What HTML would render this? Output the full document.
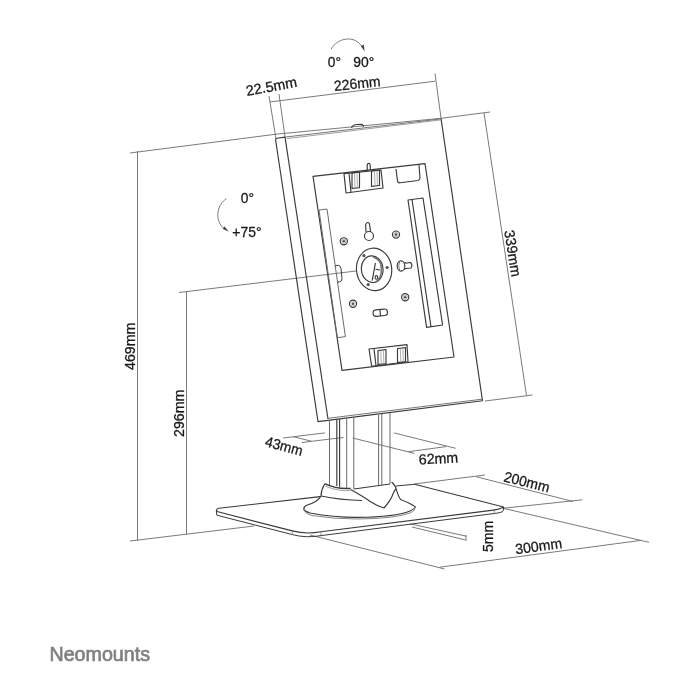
<!DOCTYPE html>
<html><head><meta charset="utf-8">
<style>
html,body{margin:0;padding:0;background:#fff;width:700px;height:700px;overflow:hidden}
svg{display:block;will-change:transform;filter:blur(0.35px)}
text{font-family:"Liberation Sans",sans-serif;fill:#1a1a1a}
.d{stroke:#7a7a7a;stroke-width:1;fill:none}
.o{stroke:#3a3a3a;stroke-width:1.15;fill:none;stroke-linejoin:round}
.t{stroke:#444;stroke-width:0.8;fill:none}
</style></head>
<body>
<svg width="700" height="700" viewBox="0 0 700 700">
<!-- ===== dimension lines ===== -->
<g class="d">
  <!-- 469 top extension -->
  <polyline points="130,153 276,134.2 441,118.3 490,112"/>
  <!-- 469 vertical -->
  <line x1="137.5" y1="151" x2="137.5" y2="541"/>
  <!-- floor line -->
  <line x1="130" y1="541" x2="254" y2="526"/>
  <!-- 296 -->
  <line x1="179" y1="292.5" x2="356" y2="271"/>
  <line x1="186.5" y1="291.5" x2="186.5" y2="534.5"/>
  <!-- 22.5 extension -->
  <line x1="269" y1="96" x2="276" y2="139"/>
  <line x1="279" y1="94" x2="285" y2="137"/>
  <!-- 226 -->
  <line x1="269.6" y1="102" x2="435" y2="81.2"/>
  <line x1="435" y1="73.5" x2="441" y2="118"/>
  <!-- 339 -->
  <line x1="484" y1="113" x2="526.5" y2="395.5"/>
  <line x1="485" y1="401" x2="532.5" y2="395"/>
  <!-- 43mm -->
  <line x1="283" y1="438" x2="325" y2="432.9"/>
  <line x1="301.8" y1="442.5" x2="343.6" y2="437.4"/>
  <line x1="293.4" y1="436.7" x2="311.4" y2="441.2"/>
  <!-- 62mm -->
  <line x1="352.7" y1="438" x2="414.4" y2="453.4"/>
  <line x1="393.9" y1="432.9" x2="455.6" y2="448.3"/>
  <line x1="408.4" y1="451.7" x2="446.1" y2="446.6"/>
  <!-- 200mm -->
  <line x1="414" y1="484" x2="485" y2="475"/>
  <line x1="476.1" y1="476.7" x2="573" y2="501.5"/>
  <line x1="502.9" y1="508.3" x2="582.3" y2="499.8"/>
  <!-- 300mm -->
  <line x1="502" y1="508" x2="649" y2="542.3"/>
  <line x1="439.7" y1="567.2" x2="641.4" y2="540.3"/>
  <line x1="310" y1="535" x2="444.6" y2="569"/>
  <!-- 5mm -->
  <line x1="410" y1="523.8" x2="466.4" y2="536.2"/>
  <line x1="412" y1="527" x2="465.2" y2="539.9"/>
  <line x1="466" y1="535" x2="466" y2="541"/>
</g>
<!-- rotation arrows -->
<g class="d">
  <path d="M331.1,49.2 C337,38 355,34 362.5,47.5"/>
  <path d="M226.4,198.7 C218,204 213,219 224.5,229.2"/>
</g>
<path d="M360.8,46.2 L364.6,51.2 L363.8,44.6 Z" fill="#444"/>
<path d="M222.6,228.8 L228.8,231.8 L224.6,226.6 Z" fill="#444"/>

<!-- ===== frame ===== -->
<g class="o">
  <!-- outer silhouette -->
  <path d="M285,137.1 L277,138.2 Q275.5,138.6 275.6,140 L318,421.6 L482.5,400.8 L441,118.3"/>
  <!-- top face front edge -->
  <line x1="285" y1="137.1" x2="441" y2="118.9" style="stroke:#666;stroke-width:0.9"/>
  <line x1="287" y1="138.6" x2="441" y2="119.9" style="stroke:#888;stroke-width:0.8"/>
  <!-- inner left strip -->
  <line x1="285" y1="137.1" x2="328" y2="419"/>
  <!-- bottom double -->
  <line x1="328" y1="418.3" x2="482" y2="399.2" style="stroke:#666;stroke-width:0.9"/>
  <!-- button -->
  <path d="M351.4,127.8 Q353,124.6 357,124.5 L361,124.4 Q363.5,124.8 363.5,126.8"/>
  <!-- inner bay -->
  <polygon points="313,176.4 425,163.6 454,357 342,370.4"/>
  <!-- top bracket -->
  <polygon points="344,173.6 381,170 383,188 346,193"/>
  <line x1="349" y1="173.2" x2="351" y2="192.4"/>
  <path d="M367.3,170.8 L367.2,165 Q367.6,163.3 368.8,163.3 Q370,163.4 370.2,165 L370.3,170.2"/>
  <rect x="352" y="173" width="7.5" height="15.5" transform="skewY(-6)" transform-origin="352 173"/>
  <path d="M354.5,173.5 L355,188 M357,173.3 L357.4,187.8" style="stroke:#999;stroke-width:0.8"/>
  <rect x="371.5" y="171" width="8" height="15.3" transform="skewY(-6)" transform-origin="371.5 171"/>
  <path d="M374.5,171.2 L375,185.7 M377,171 L377.4,185.4" style="stroke:#999;stroke-width:0.8"/>
  <!-- top right rect -->
  <path d="M396,169 L397.5,181 Q398,183 400,182.8 L418,180.5 Q420,180 420,178 L419,165"/>
  <!-- left rail -->
  <polygon points="319,210 327,209 345.4,336.6 337.4,337.7" style="stroke:#6a6a6a;stroke-width:1"/>
  <path d="M335,265.8 L338.3,265.3 Q340.6,265.6 341,268.5 L342,278.5 Q342.2,281.6 339.3,282 L337.3,282.2" style="stroke-width:1"/>
  <!-- right rail -->
  <polygon points="408,200 423,198 442.6,325 426.6,327.4"/>
  <line x1="412" y1="199.5" x2="431" y2="326.8"/>
  <!-- bottom bracket -->
  <polygon points="369,349 407,344.6 408,361.7 371.7,366.3"/>
  <line x1="374" y1="348.5" x2="376" y2="365.7"/>
  <rect x="378" y="350.5" width="8" height="14" transform="skewY(-6)" transform-origin="378 350.5"/>
  <path d="M380.8,350.5 L381.3,364.6 M383.4,350.2 L383.9,364.3" style="stroke:#999;stroke-width:0.8"/>
  <rect x="397.5" y="348.5" width="8" height="14" transform="skewY(-6)" transform-origin="397.5 348.5"/>
  <path d="M400.3,348.4 L400.8,362.4 M402.9,348.1 L403.4,362.1" style="stroke:#999;stroke-width:0.8"/>
  <!-- keyhole -->
  <path d="M366,232 L365.6,224.5 Q367.5,221 369.4,223.5 L370.6,231.8"/>
  <circle cx="369" cy="236" r="4.5"/>
  <!-- screws -->
  <circle cx="343.8" cy="241.3" r="3.6"/>
  <circle cx="396" cy="234.6" r="3.6"/>
  <circle cx="353" cy="303.8" r="3.6"/>
  <circle cx="405.2" cy="297.3" r="3.6"/>
  <!-- ring -->
  <ellipse cx="374.1" cy="269.4" rx="17.6" ry="21.3" transform="rotate(-6 374.1 269.4)"/>
  <ellipse cx="372.2" cy="269.2" rx="10.8" ry="13.4" transform="rotate(-6 372.2 269.2)"/>
  <path d="M373,257 Q382,259.5 381.5,270 Q381,279 375.5,282" style="stroke:#777;stroke-width:1.6"/>
  <path d="M375.4,262.8 L372.2,280.6 M375.4,269.3 L380.2,270"/>
  <ellipse cx="376.4" cy="277.4" rx="1.3" ry="1.8"/>
  <!-- peg -->
  <ellipse cx="401" cy="266" rx="3.8" ry="5.2"/>
  <path d="M404.3,262.6 Q406,263.5 408,262.8 L410.5,262.5 Q413,265 411,268 L408,268.3 Q406,268 404.3,269.5"/>
  <path d="M399.5,261.5 Q398,266 399.5,270.5" style="stroke-width:0.7"/>
  <!-- slot -->
  <rect x="373" y="309.5" width="14.5" height="6.5" rx="3.2" transform="rotate(-6 380 312.8)"/>
  <line x1="380" y1="309.5" x2="380.5" y2="316"/>
</g>
<!-- screw centers -->
<g fill="#555" stroke="none">
  <circle cx="363.9" cy="255.7" r="1.6"/>
  <circle cx="387.1" cy="267.5" r="1.6"/>
  <circle cx="368.2" cy="284.6" r="1.6"/>
  <circle cx="343.8" cy="241.3" r="1.3"/>
  <circle cx="396" cy="234.6" r="1.3"/>
  <circle cx="353" cy="303.8" r="1.3"/>
  <circle cx="405.2" cy="297.3" r="1.3"/>
</g>
<g class="t" style="stroke:#888;stroke-width:0.6">
  <circle cx="343.8" cy="241.3" r="2.2"/>
  <circle cx="396" cy="234.6" r="2.2"/>
  <circle cx="353" cy="303.8" r="2.2"/>
  <circle cx="405.2" cy="297.3" r="2.2"/>
</g>

<!-- ===== pole ===== -->
<g class="o" style="stroke:#6a6a6a;stroke-width:1">
  <line x1="329.5" y1="420.5" x2="329.5" y2="485"/>
  <line x1="346.7" y1="418.4" x2="346.7" y2="488"/>
  <line x1="353.8" y1="417.6" x2="353.8" y2="489"/>
  <line x1="378.6" y1="414.5" x2="378.6" y2="485.5"/>
  <line x1="381.8" y1="414" x2="381.8" y2="485"/>
  <line x1="390" y1="413" x2="390" y2="484"/>
</g>
<g class="o">
  <line x1="336.8" y1="419.6" x2="336.8" y2="486"/>
  <line x1="339.6" y1="419.3" x2="339.6" y2="487"/>
  <line x1="354" y1="489" x2="390" y2="484"/>
  <!-- collar -->
  <path d="M324.7,483.6 Q337,489.5 350.7,488.4" style="stroke-width:1.5"/>
  <path d="M325.5,486.2 Q338,491.5 350.7,490.6" style="stroke:#888;stroke-width:0.8"/>
  <path d="M324.7,484 Q321,490 321,496 Q318,502 306,505.5"/>
  <path d="M391.6,482 Q396,486 396.5,490.4 Q399,498 401,499.7 Q410,503 413.8,506"/>
  <path d="M321,496 Q340,500 362,500.5"/>
  <path d="M350.7,489.5 Q364,497 371,502 Q378,506.5 384,508 Q391,500 393,494 Q394.5,490 396,489"/>
  <!-- base disk -->
  <path d="M306,505.5 Q300,510 310,513 Q335,517.6 358,517.4 Q395,517 410,511 Q418,507 413.8,506"/>
  <path d="M304.5,508 Q303,513 312,515.5 Q335,519.2 358,519 Q395,518.6 410,513 Q416,510 414.5,508" style="stroke:#777;stroke-width:0.9"/>
</g>

<!-- ===== base plate ===== -->
<g class="o">
  <path d="M320,496.6 L219,508.3 Q215.5,509 217,511.5 L292.3,530.9 Q306,534.5 321,531.8 L491.4,510.4 Q500,509.2 503.6,507 L414.5,484.2"/>
  <line x1="396" y1="486" x2="414.5" y2="484.2"/>
  <path d="M216.3,510.5 L216.8,515.2 L292.3,534.6 Q306,538.3 321,535.6 L498,513 Q503.6,512.2 503.6,510 L503.6,507" style="stroke-width:1"/>
  <g style="stroke:#777;stroke-width:0.8">
    <line x1="292.3" y1="531" x2="292.3" y2="534.6"/>
    <line x1="321" y1="531.8" x2="321" y2="535.6"/>
    <line x1="494.3" y1="510.3" x2="494.3" y2="514.2"/>
  </g>
</g>

<!-- ===== text ===== -->
<g font-size="14.5" style="stroke:#1a1a1a;stroke-width:0.3">
  <text x="327.8" y="66.5" textLength="13.18" lengthAdjust="spacingAndGlyphs">0°</text>
  <text x="353.3" y="66.5" textLength="21.06" lengthAdjust="spacingAndGlyphs">90°</text>
  <text x="334.5" y="91" transform="rotate(-6 334.5 91)" textLength="46.67" lengthAdjust="spacingAndGlyphs">226mm</text>
  <text x="247" y="96" transform="rotate(-10.5 247 96)" textLength="51.60" lengthAdjust="spacingAndGlyphs">22.5mm</text>
  <text x="240.8" y="203.3" textLength="13.18" lengthAdjust="spacingAndGlyphs">0°</text>
  <text x="232.3" y="237" textLength="29.19" lengthAdjust="spacingAndGlyphs">+75°</text>
  <text x="135" y="370" transform="rotate(-90 135 370)" textLength="47.39" lengthAdjust="spacingAndGlyphs">469mm</text>
  <text x="183.7" y="437" transform="rotate(-90 183.7 437)" textLength="47.39" lengthAdjust="spacingAndGlyphs">296mm</text>
  <text x="504.2" y="231" transform="rotate(81 504.2 231)" textLength="46.91" lengthAdjust="spacingAndGlyphs">339mm</text>
  <text x="264.3" y="446" transform="rotate(15 264.3 446)" textLength="38.28" lengthAdjust="spacingAndGlyphs">43mm</text>
  <text x="419" y="464.5" transform="rotate(-3 419 464.5)" textLength="39.49" lengthAdjust="spacingAndGlyphs">62mm</text>
  <text x="503" y="481.2" transform="rotate(14 503 481.2)" textLength="46.57" lengthAdjust="spacingAndGlyphs">200mm</text>
  <text x="516" y="554.2" transform="rotate(-7.5 516 554.2)" textLength="46.91" lengthAdjust="spacingAndGlyphs">300mm</text>
  <text x="493" y="552" transform="rotate(-90 493 552)" textLength="31.27" lengthAdjust="spacingAndGlyphs">5mm</text>
</g>
<text x="49.5" y="660.8" font-size="20" textLength="100.5" lengthAdjust="spacingAndGlyphs" style="fill:#808080;stroke:#808080;stroke-width:0.7">Neomounts</text>
</svg>
</body></html>
